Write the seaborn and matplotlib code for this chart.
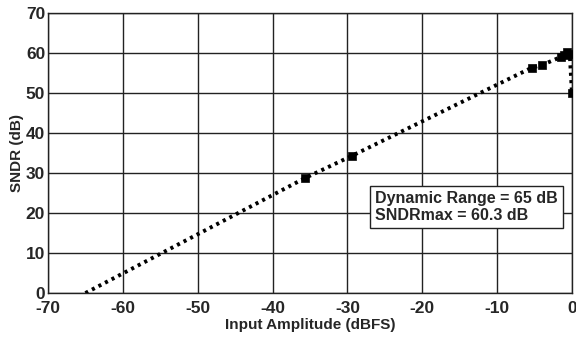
import matplotlib
matplotlib.use("Agg")
import matplotlib.pyplot as plt
import seaborn as sns
import pandas as pd

# Data
amp_line = [-65, -35.6, -29.4, -5.4, -4.0, -1.5, -1.0, -0.6, -0.3, 0.0]
sndr_line = [0.0, 28.8, 34.3, 56.3, 57.0, 59.0, 59.5, 60.3, 59.8, 50.0]
amp_meas = [-35.6, -29.4, -5.4, -4.0, -1.5, -1.0, -0.6, -0.3, 0.0]
sndr_meas = [28.8, 34.3, 56.3, 57.0, 59.0, 59.5, 60.3, 59.8, 50.0]
xticks = [-70, -60, -50, -40, -30, -20, -10, 0]
yticks = [0, 10, 20, 30, 40, 50, 60, 70]

sns.set_style("white")
plt.rcParams['font.family'] = ['Liberation Sans', 'DejaVu Sans']
plt.rcParams['font.weight'] = 'bold'

fig = plt.figure(figsize=(5.76, 3.38), dpi=100)
ax = fig.add_axes([0.0833, 0.133, 0.9097, 0.8285])

df_line = pd.DataFrame({"amp": amp_line, "sndr": sndr_line})
df_meas = pd.DataFrame({"amp": amp_meas, "sndr": sndr_meas})

sns.lineplot(data=df_line, x="amp", y="sndr", ax=ax, color="black",
             linewidth=2.8, linestyle=(0, (0.8, 1.1)), sort=False, zorder=3)
sns.scatterplot(data=df_meas, x="amp", y="sndr", ax=ax, color="black",
                marker="s", s=36, edgecolor="black", zorder=4)

ax.set_xlim(-70, 0)
ax.set_ylim(0, 70)
ax.set_xticks(xticks)
ax.set_yticks(yticks)
ax.set_xticklabels([str(t) for t in xticks], fontsize=12.5, fontweight='bold')
ax.set_yticklabels([str(t) for t in yticks], fontsize=12.5, fontweight='bold')
ax.tick_params(axis='x', length=0, pad=6)
ax.tick_params(axis='y', length=0, pad=2)
ax.grid(True, color="#222222", linewidth=1.0)
for s in ax.spines.values():
    s.set_color("#222222")
    s.set_linewidth(1.0)

ax.set_xlabel("Input Amplitude (dBFS)", fontsize=11, fontweight='bold', labelpad=1)
ax.set_ylabel("SNDR (dB)", fontsize=11, fontweight='bold', labelpad=1)

ax.text(-26.3, 21.5, "Dynamic Range = 65 dB\nSNDRmax = 60.3 dB",
        fontsize=11.5, fontweight='bold', ha='left', va='center', zorder=5,
        linespacing=1.2,
        bbox=dict(boxstyle='square,pad=0.3', facecolor='white', edgecolor='#222222', linewidth=1.0))

fig.savefig("out.png", dpi=100)
